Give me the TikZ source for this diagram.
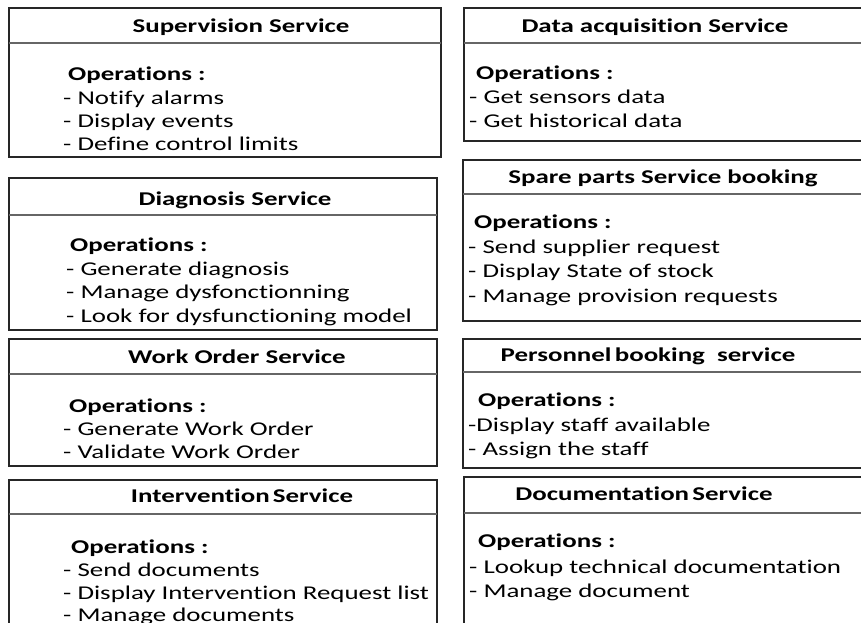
\documentclass[tikz,border=0pt]{standalone}
\usepackage{fontspec}
\setmainfont{Carlito}[FakeStretch=1.38,Ligatures=CommonOff]
\newcommand\svcfont{\fontsize{19.5}{23}\selectfont}

\begin{document}
\begin{tikzpicture}[x=1pt,y=-1pt,
  box/.style={draw=black!85,line width=1.3pt},
  sepline/.style={draw=black!60,line width=1.3pt},
  title/.style={anchor=base,inner sep=0pt,font=\svcfont\bfseries},
  ops/.style={anchor=base west,inner sep=0pt,font=\svcfont\bfseries},
  item/.style={anchor=base west,inner sep=0pt,font=\svcfont}]
\useasboundingbox (0,0) rectangle (861,622);
\clip (0,0) rectangle (861,622);

% left column
\draw[box] (9,8) rectangle (441,157);
\draw[sepline] (9,43) -- (441,43);
\node[title] (sup) at (241,32) {Supervision Service};
\node[ops] (supops) at (68,80) {Operations :};
\node[item] (sup1) at (63,104) {- Notify alarms};
\node[item] (sup2) at (63,127) {- Display events};
\node[item] (sup3) at (63,150) {- Define control limits};

\draw[box] (9,178) rectangle (437,330);
\draw[sepline] (9,215) -- (437,215);
\node[title] (diag) at (235,205) {Diagnosis Service};
\node[ops] (diagops) at (70,251) {Operations :};
\node[item] (diag1) at (66,275) {- Generate diagnosis};
\node[item] (diag2) at (66,298) {- Manage dysfonctionning};
\node[item] (diag3) at (66,322) {- Look for dysfunctioning model};

\draw[box] (9,339) rectangle (437,466);
\draw[sepline] (9,374) -- (437,374);
\node[title] (wo) at (237,363) {Work Order Service};
\node[ops] (wools) at (69,412) {Operations :};
\node[item] (wo1) at (63,435) {- Generate Work Order};
\node[item] (wo2) at (63,458) {- Validate Work Order};

\draw[box] (9,480) rectangle (437,640);
\draw[sepline] (9,514) -- (437,514);
\node[title] (interv) at (242,502) {Intervention\,Service};
\node[ops] (intervops) at (71,553) {Operations :};
\node[item] (interv1) at (63,576) {- Send documents};
\node[item] (interv2) at (63,599) {- Display Intervention Request list};
\node[item] (interv3) at (63,621) {- Manage documents};

% right column
\draw[box] (464,8) rectangle (880,141);
\draw[sepline] (464,43) -- (880,43);
\node[title] (acq) at (655,32) {Data acquisition Service};
\node[ops] (acqops) at (476,79) {Operations :};
\node[item] (acq1) at (469,103) {- Get sensors data};
\node[item] (acq2) at (469,127) {- Get historical data};

\draw[box] (463,160) rectangle (880,321);
\draw[sepline] (463,194) -- (880,194);
\node[title] (spare) at (663,183) {Spare parts Service booking};
\node[ops] (spareops) at (474,228) {Operations :};
\node[item] (spare1) at (468,253) {- Send supplier request};
\node[item] (spare2) at (468,277) {- Display State of stock};
\node[item] (spare3) at (468,302) {- Manage provision requests};

\draw[box] (463,339) rectangle (880,468);
\draw[sepline] (463,372) -- (880,372);
\node[title] (staff) at (648,361) {Personnel\,booking\ \ service};
\node[ops] (staffops) at (478,406) {Operations :};
\node[item] (staff1) at (468,431) {-Display staff available};
\node[item] (staff2) at (468,455) {- Assign the staff};

\draw[box] (464,477) rectangle (880,640);
\draw[sepline] (464,513) -- (880,513);
\node[title] (doc) at (644,500) {Documentation\,Service};
\node[ops] (docops) at (478,547) {Operations :};
\node[item] (doc1) at (469,573) {- Lookup technical documentation};
\node[item] (doc2) at (469,597) {- Manage document};
\end{tikzpicture}
\end{document}
